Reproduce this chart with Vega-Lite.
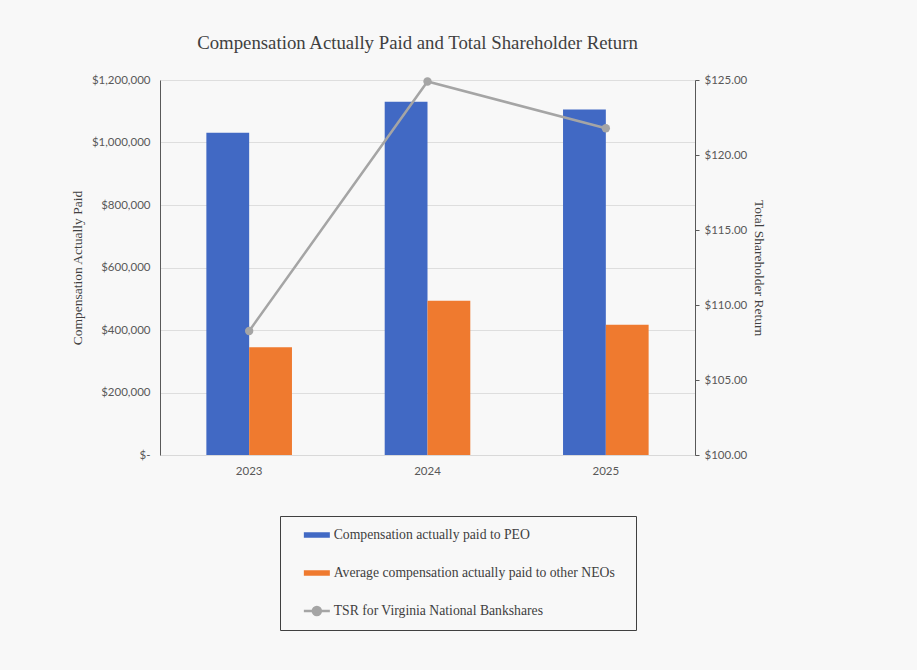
{
  "$schema": "https://vega.github.io/schema/vega-lite/v6.json",
  "width": 535,
  "height": 375,
  "autosize": {"type": "none"},
  "padding": {"left": 160, "top": 80, "right": 222, "bottom": 215},
  "background": "#f8f8f8",
  "config": {
    "view": {"stroke": null},
    "axis": {"labelFont": "Lato", "labelFontSize": 11.5, "labelColor": "#595959", "titleFont": "Liberation Serif", "titleFontSize": 13.5, "titleFontWeight": "normal", "titleColor": "#404040"}
  },
  "title": {
    "text": "Compensation Actually Paid and Total Shareholder Return",
    "font": "Liberation Serif",
    "fontSize": 18.8,
    "fontWeight": "normal",
    "color": "#404040",
    "anchor": "middle",
    "dx": -10,
    "offset": 21
  },
  "datasets": {
    "bars": [
      {"year": "2023", "series": "Compensation actually paid to PEO", "value": 1031000},
      {"year": "2023", "series": "Average compensation actually paid to other NEOs", "value": 344600},
      {"year": "2024", "series": "Compensation actually paid to PEO", "value": 1130600},
      {"year": "2024", "series": "Average compensation actually paid to other NEOs", "value": 493800},
      {"year": "2025", "series": "Compensation actually paid to PEO", "value": 1106000},
      {"year": "2025", "series": "Average compensation actually paid to other NEOs", "value": 417000}
    ],
    "tsr": [
      {"year": "2023", "tsr": 108.27},
      {"year": "2024", "tsr": 124.9},
      {"year": "2025", "tsr": 121.78}
    ]
  },
  "layer": [
    {
      "data": {"name": "bars"},
      "mark": {"type": "bar"},
      "encoding": {
        "x": {
          "field": "year", "type": "nominal",
          "scale": {"paddingInner": 0.52, "paddingOuter": 0.26},
          "axis": {"title": null, "labelAngle": 0, "ticks": false, "domainColor": "#d9d9d9", "labelPadding": 10, "grid": false}
        },
        "xOffset": {
          "field": "series", "type": "nominal",
          "scale": {"domain": ["Compensation actually paid to PEO", "Average compensation actually paid to other NEOs"], "paddingInner": 0, "paddingOuter": 0}
        },
        "y": {
          "field": "value", "type": "quantitative",
          "scale": {"domain": [0, 1200000], "nice": false},
          "axis": {
            "title": "Compensation Actually Paid",
            "values": [0, 200000, 400000, 600000, 800000, 1000000, 1200000],
            "labelExpr": "datum.value === 0 ? '$-' : '$' + format(datum.value, ',')",
            "ticks": false,
            "labelPadding": 10,
            "domainColor": "#595959",
            "gridColor": "#dedede",
            "titleX": -83,
            "titleY": 187.5,
            "titleBaseline": "middle",
            "titleAngle": -90
          }
        },
        "color": {
          "field": "series", "type": "nominal",
          "scale": {
            "domain": ["Compensation actually paid to PEO", "Average compensation actually paid to other NEOs", "TSR for Virginia National Bankshares"],
            "range": ["#4169c4", "#ef7a2f", "#a5a5a5"]
          },
          "legend": {
            "title": "\u00a0",
            "titleOrient": "right",
            "titlePadding": 15,
            "titleFontSize": 1,
            "orient": "none",
            "direction": "vertical",
            "legendX": 120,
            "legendY": 436,
            "padding": 6,
            "clipHeight": 26,
            "symbolSize": 196,
            "symbolOffset": 24,
            "labelOffset": 10,
            "rowPadding": 12,
            "labelFont": "Liberation Serif",
            "labelFontSize": 13.7,
            "labelColor": "#404040",
            "labelLimit": 400,
            "strokeColor": "#404040",
            "encode": {
              "symbols": {
                "update": {
                  "shape": {"signal": "datum.value === 'TSR for Virginia National Bankshares' ? 'M-1.857,0H1.857M0.571,0A0.571,0.571 0 1,1 -0.571,0A0.571,0.571 0 1,1 0.571,0Z' : 'M-1.857,-0.4H1.857V0.4H-1.857Z'"},
                  "fill": {"signal": "scale('color', datum.value)"},
                  "stroke": {"signal": "scale('color', datum.value)"},
                  "strokeWidth": {"signal": "datum.value === 'TSR for Virginia National Bankshares' ? 2.5 : 0"},
                  "opacity": {"value": 1}
                }
              }
            }
          }
        }
      }
    },
    {
      "data": {"name": "tsr"},
      "mark": {"type": "line", "color": "#a5a5a5", "strokeWidth": 2.5, "point": {"filled": true, "size": 70, "color": "#a5a5a5", "opacity": 1}},
      "encoding": {
        "x": {"field": "year", "type": "nominal"},
        "y": {
          "field": "tsr", "type": "quantitative",
          "scale": {"domain": [100, 125], "nice": false, "zero": false},
          "axis": {
            "orient": "right",
            "title": "Total Shareholder Return",
            "values": [100, 105, 110, 115, 120, 125],
            "labelExpr": "'$' + format(datum.value, '.2f')",
            "grid": false,
            "ticks": true,
            "tickSize": 4,
            "tickColor": "#595959",
            "labelPadding": 5,
            "domainColor": "#595959",
            "titleX": 63,
            "titleY": 187.5,
            "titleBaseline": "middle",
            "titleAngle": 90
          }
        }
      }
    }
  ],
  "resolve": {"scale": {"y": "independent"}}
}
